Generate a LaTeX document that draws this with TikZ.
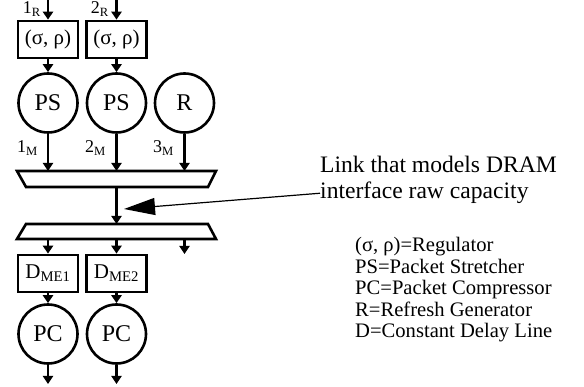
\documentclass[tikz,border=0pt]{standalone}
\usepackage{fontspec}
\setmainfont{Liberation Serif}
\usetikzlibrary{arrows.meta}
\tikzset{
  wire/.style={line width=2.6pt, -{Triangle[length=8pt,width=10pt]}},
  blk/.style={draw, line width=2.6pt, minimum width=60pt, minimum height=37pt, inner sep=0pt, font=\fontsize{21}{22}\selectfont},
  rnd/.style={draw, circle, line width=2.6pt, minimum size=59pt, inner sep=0pt, font=\fontsize{24}{24}\selectfont},
  mux/.style={draw, line width=2.6pt, line join=miter},
  lbl/.style={font=\fontsize{18}{18}\selectfont, inner sep=0pt},
  legend/.style={font=\fontsize{20.6}{22}\selectfont, inner sep=0pt, anchor=base west},
  note/.style={font=\fontsize{23.6}{24}\selectfont, inner sep=0pt, anchor=base west}
}
\begin{document}
\begin{tikzpicture}[x=1pt,y=-1pt]
\useasboundingbox (0,0) rectangle (584,387);
% regulators
\node[blk] (reg1) at (48,39.5) {(σ, ρ)};
\node[blk] (reg2) at (116.5,39.5) {(σ, ρ)};
\coordinate (in1) at (48,-2);
\coordinate (in2) at (116.5,-2);
\draw[wire] (in1) -- (reg1.north);
\draw[wire] (in2) -- (reg2.north);
\node[lbl, anchor=base east] (l1r) at (41,14) {1\textsubscript{R}};
\node[lbl, anchor=base east] (l2r) at (109,14) {2\textsubscript{R}};
% circles
\node[rnd] (ps1) at (48,103) {PS};
\node[rnd] (ps2) at (116.5,103) {PS};
\node[rnd] (r) at (184.5,103) {R};
\draw[wire] (reg1.south) -- (ps1.north);
\draw[wire] (reg2.south) -- (ps2.north);
% mux 1
\coordinate (m1a) at (17,171);
\coordinate (m1b) at (216,171);
\coordinate (m1c) at (208,187);
\coordinate (m1d) at (26,187);
\draw[mux] (m1a) -- (m1b) -- (m1c) -- (m1d) -- cycle;
\coordinate (m1i1) at (48,171);
\coordinate (m1i2) at (116.5,171);
\coordinate (m1i3) at (184.5,171);
\draw[wire] (ps1.south) -- (m1i1);
\draw[wire] (ps2.south) -- (m1i2);
\draw[wire] (r.south) -- (m1i3);
\node[lbl, anchor=base east] (l1m) at (38,153) {1\textsubscript{M}};
\node[lbl, anchor=base east] (l2m) at (106,153) {2\textsubscript{M}};
\node[lbl, anchor=base east] (l3m) at (174,153) {3\textsubscript{M}};
% mux 2
\coordinate (m2a) at (26,224);
\coordinate (m2b) at (208,224);
\coordinate (m2c) at (216,239);
\coordinate (m2d) at (17,239);
\draw[mux] (m2a) -- (m2b) -- (m2c) -- (m2d) -- cycle;
\coordinate (m1o) at (116.5,187);
\coordinate (m2i) at (116.5,224);
\draw[wire] (m1o) -- (m2i);
\coordinate (m2o1) at (48,239);
\coordinate (m2o2) at (116.5,239);
\coordinate (m2o3) at (184.5,239);
\coordinate (m2e3) at (184.5,254);
% delay boxes
\node[blk] (d1) at (48,273.5) {D\textsubscript{ME1}};
\node[blk] (d2) at (116.5,273.5) {D\textsubscript{ME2}};
\draw[wire] (m2o1) -- (d1.north);
\draw[wire] (m2o2) -- (d2.north);
\draw[wire] (m2o3) -- (m2e3);
% PC
\node[rnd] (pc1) at (48,334) {PC};
\node[rnd] (pc2) at (116.5,334) {PC};
\draw[wire] (d1.south) -- (pc1.north);
\draw[wire] (d2.south) -- (pc2.north);
\coordinate (o1) at (48,384);
\coordinate (o2) at (116.5,384);
\draw[wire] (pc1.south) -- (o1);
\draw[wire] (pc2.south) -- (o2);
% annotation
\node[note] (n1) at (320,173) {Link that models DRAM};
\node[note] (n2) at (320,199) {interface raw capacity};
\coordinate (tip) at (124,209);
\draw[line width=1.2pt, -{Triangle[length=31pt,width=17pt]}] (n2.west) -- (tip);
% legend
\node[legend] (leg1) at (355,252) {(σ, ρ)=Regulator};
\node[legend] (leg2) at (355,273.5) {PS=Packet Stretcher};
\node[legend] (leg3) at (355,295) {PC=Packet Compressor};
\node[legend] (leg4) at (355,316.5) {R=Refresh Generator};
\node[legend] (leg5) at (355,338) {D=Constant Delay Line};
\end{tikzpicture}
\end{document}
